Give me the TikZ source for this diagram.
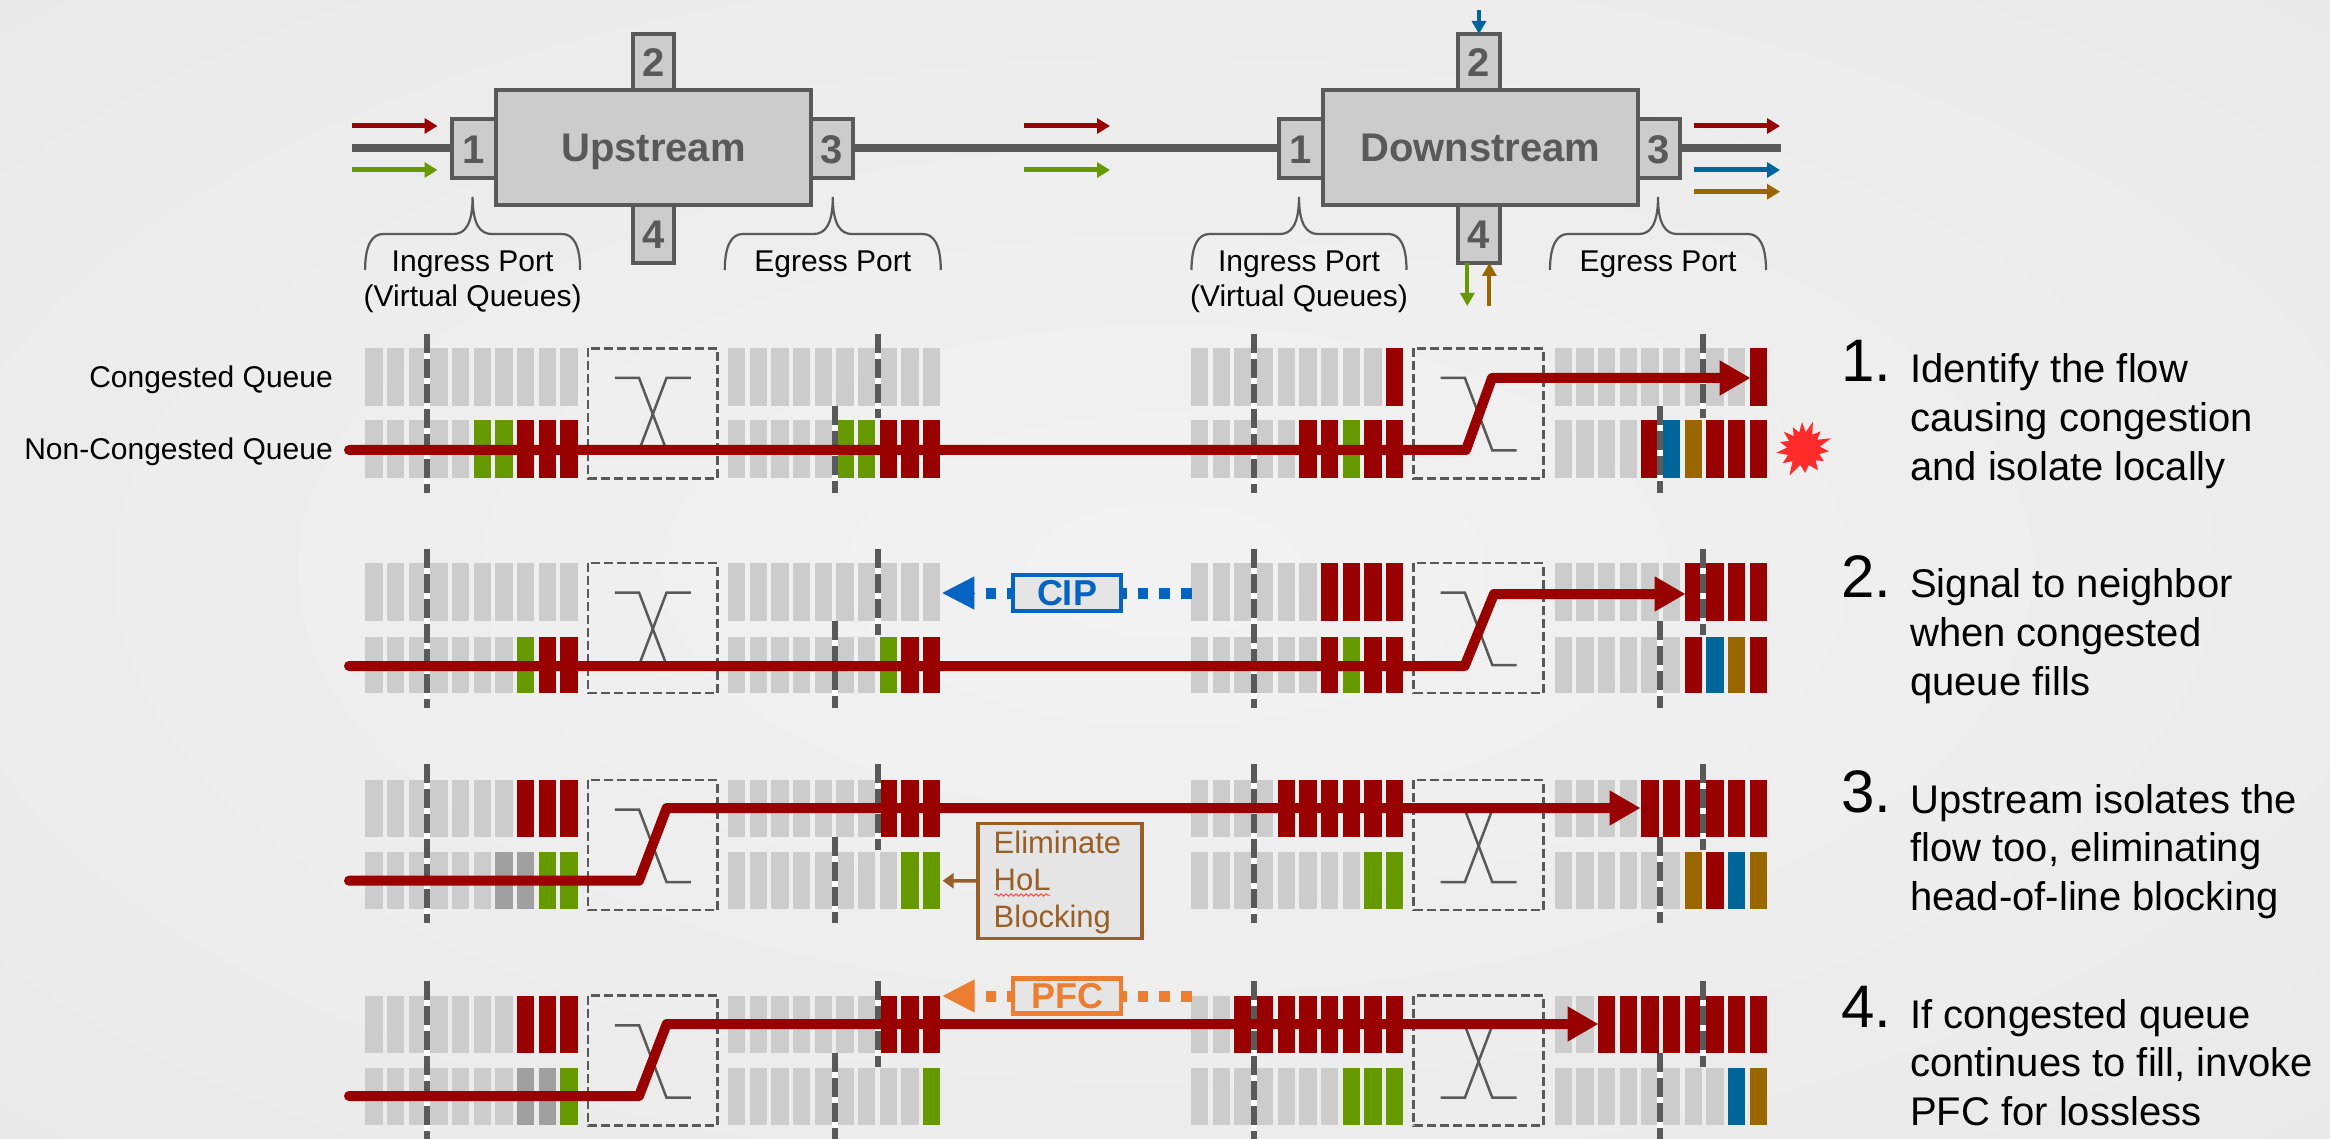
\documentclass[tikz,border=0pt]{standalone}
\usepackage{fontspec}
\setmainfont{Liberation Sans}
\usetikzlibrary{arrows.meta,decorations.pathmorphing}
\definecolor{qg}{HTML}{CCCCCC}
\definecolor{qd}{HTML}{A0A0A0}
\definecolor{qr}{HTML}{990000}
\definecolor{qn}{HTML}{669900}
\definecolor{qb}{HTML}{006699}
\definecolor{qw}{HTML}{996600}
\definecolor{ink}{HTML}{595959}
\definecolor{holc}{HTML}{9A5F26}
\definecolor{cipc}{HTML}{0563C1}
\definecolor{pfcc}{HTML}{ED7D31}
\definecolor{burstc}{HTML}{FF2A2A}
\pgfdeclareradialshading{bgshade}{\pgfpoint{0bp}{0bp}}{color(0bp)=(white!95!black); color(50bp)=(white!90!black)}
\newcommand\fsz[2]{\fontsize{#1}{#2}\selectfont}
\newcommand\qrow[4]{%
  \foreach \i in {0,...,9} {\fill[qg] ({#1+\i*21.65},#2) rectangle +(17.4,#3);}
  \foreach \i/\c in {#4} {\fill[fill=\c] ({#1+\i*21.65},#2) rectangle +(17.4,#3);}}
\newcommand\mydash[3]{%
  \draw[dashbar,white,solid] ({#1},{#2}) -- ({#1},{#3});
  \draw[dashbar] ({#1},{#2}) -- ({#1},{#3});}
\newcommand\qswitch[2]{%
  \draw[swbox] ({#1-64.8},#2) rectangle ({#1+64.8},{#2+130});
  \draw[swline] ({#1-38},{#2+29.7}) -- ({#1-13.7},{#2+29.7}) -- ({#1+13.7},{#2+102}) -- ({#1+38},{#2+102});
  \draw[swline] ({#1+38},{#2+29.7}) -- ({#1+13.7},{#2+29.7}) -- ({#1-13.7},{#2+102}) -- ({#1-38},{#2+102});}
\newcommand\qbrace[2]{%
  \draw[bracel] ({#1-#2},270) .. controls ({#1-#2},245) and ({#1-#2+7},234) .. ({#1-#2+18},234)
    -- ({#1-19},234) .. controls ({#1-8},234) and (#1,225) .. (#1,197)
    .. controls (#1,225) and ({#1+8},234) .. ({#1+19},234)
    -- ({#1+#2-18},234) .. controls ({#1+#2-7},234) and ({#1+#2},245) .. ({#1+#2},270);}
\tikzset{
  x=1pt,y=-1pt,
  sw/.style={draw=ink,fill=qg,line width=4pt,inner sep=0pt,outer sep=0pt,minimum width=315pt,minimum height=115pt,text=ink,font=\bfseries\fsz{40}{48},text height=28.4pt,text depth=0pt},
  port/.style={draw=ink,fill=qg,line width=4pt,inner sep=0pt,outer sep=0pt,text=ink,font=\bfseries\fsz{40}{48},text height=28.4pt,text depth=0pt},
  link/.style={draw=ink,line width=8pt},
  small/.style={line width=5pt,-{Triangle[length=13pt,width=15pt]}},
  smallv/.style={line width=4pt,-{Triangle[length=13pt,width=14pt]}},
  bracel/.style={draw=ink,line width=2.2pt},
  lab/.style={font=\fsz{30}{35},text=black,inner sep=0pt,align=center,anchor=base},
  qlab/.style={font=\fsz{30}{35},text=black,inner sep=0pt,anchor=base east},
  dashbar/.style={draw=ink,line width=6pt,dash pattern=on 19pt off 6pt},
  swbox/.style={draw=ink,line width=2.7pt,dash pattern=on 9pt off 4pt},
  swline/.style={draw=ink,line width=2.5pt},
  flow/.style={draw=qr,line width=10pt,line cap=round,line join=round,-{Triangle[length=31pt,width=33pt]}},
  sigbox/.style={line width=4.4pt,fill=white!90!black,inner sep=0pt,outer sep=0pt,minimum width=108pt,minimum height=36pt,font=\bfseries\fsz{36}{42}},
  sigdots/.style={line width=11pt,dash pattern=on 10.7pt off 11pt},
  sighead/.style={line width=1pt,-{Triangle[length=32pt,width=33pt]}},
  step num/.style={font=\fsz{60}{60},text=black,inner sep=0pt,anchor=base west},
  step text/.style={font=\fsz{40}{48.8},text=black,inner sep=0pt,align=left,anchor=base west},
}
\begin{document}
\begin{tikzpicture}
\useasboundingbox (0,0) rectangle (2330,1139);
\clip (0,0) rectangle (2330,1139);
\fill[shading=bgshade] (0,0) rectangle (2330,1139);

% --- top switches
\coordinate (inL) at (352,147.7);
\coordinate (outR) at (1781,147.7);
\node[port,minimum width=41pt,minimum height=56pt] (u2) at (653.5,62) {2};
\node[port,minimum width=41pt,minimum height=58pt] (u4) at (653.5,234) {4};
\node[port,minimum width=44pt,minimum height=59pt] (u1) at (474,149) {1};
\node[port,minimum width=42pt,minimum height=59pt] (u3) at (832,149) {3};
\node[sw] (up) at (653.5,147.5) {Upstream};
\node[port,minimum width=42pt,minimum height=56pt] (d2) at (1479,62) {2};
\node[port,minimum width=42pt,minimum height=58pt] (d4) at (1479,234) {4};
\node[port,minimum width=44pt,minimum height=59pt] (d1) at (1300.5,149) {1};
\node[port,minimum width=42pt,minimum height=59pt] (d3) at (1659,149) {3};
\node[sw] (dn) at (1480.3,147.5) {Downstream};
\draw[link] (inL) -- (u1.west |- inL);
\draw[link] (u3.east |- inL) -- (d1.west |- inL);
\draw[link] (d3.east |- inL) -- (outR);

% small flow arrows
\coordinate (a1s) at (352,126); \coordinate (a1e) at (437.5,126);
\coordinate (a2s) at (352,170); \coordinate (a2e) at (437.5,170);
\coordinate (a3s) at (1024,126); \coordinate (a3e) at (1110,126);
\coordinate (a4s) at (1024,170); \coordinate (a4e) at (1110,170);
\coordinate (a5s) at (1694,126); \coordinate (a5e) at (1780,126);
\coordinate (a6s) at (1694,170); \coordinate (a6e) at (1780,170);
\coordinate (a7s) at (1694,191.7); \coordinate (a7e) at (1780,191.7);
\draw[small,draw=qr,qr] (a1s) -- (a1e);
\draw[small,draw=qn,qn] (a2s) -- (a2e);
\draw[small,draw=qr,qr] (a3s) -- (a3e);
\draw[small,draw=qn,qn] (a4s) -- (a4e);
\draw[small,draw=qr,qr] (a5s) -- (a5e);
\draw[small,draw=qb,qb] (a6s) -- (a6e);
\draw[small,draw=qw,qw] (a7s) -- (a7e);
\coordinate (a8s) at (1479,10);
\coordinate (a9e) at (1467.3,306);
\coordinate (a10s) at (1489.4,306);
\draw[smallv,qb] (a8s) -- (a8s |- d2.north);
\draw[smallv,qn] (a9e |- d4.south) -- (a9e);
\draw[smallv,qw] (a10s) -- (a10s |- d4.south);

% braces and captions
\qbrace{472.6}{107.5}
\qbrace{832.8}{108}
\qbrace{1299}{107.5}
\qbrace{1658}{108}
\node[lab] (t1) at (472.6,306.7) {Ingress Port\\(Virtual Queues)};
\node[lab] (t2) at (832.8,271.7) {Egress Port};
\node[lab] (t3) at (1299,306.7) {Ingress Port\\(Virtual Queues)};
\node[lab] (t4) at (1658,271.7) {Egress Port};
\node[qlab] (q1) at (333,388) {Congested Queue};
\node[qlab] (q2) at (333,459.3) {Non-Congested Queue};

% --- diagram 1
\qrow{365.3}{348.3}{57.7}{0/qg}
\qrow{365.3}{420}{57.7}{5/qn,6/qn,7/qr,8/qr,9/qr}
\qrow{728}{348.3}{57.7}{0/qg}
\qrow{728}{420}{57.7}{5/qn,6/qn,7/qr,8/qr,9/qr}
\qrow{1191}{348.3}{57.7}{9/qr}
\qrow{1191}{420}{57.7}{5/qr,6/qr,7/qn,8/qr,9/qr}
\qrow{1554.7}{348.3}{57.7}{9/qr}
\qrow{1554.7}{420}{57.7}{4/qr,5/qb,6/qw,7/qr,8/qr,9/qr}
\mydash{427.3}{334}{493}
\mydash{878}{334}{418}
\mydash{834.5}{406}{493}
\mydash{1253.8}{334}{493}
\mydash{1702.8}{334}{418}
\mydash{1660.3}{406}{493}
\qswitch{652.8}{348.3}
\qswitch{1478.6}{348.3}
\coordinate (f1a) at (349,450); \coordinate (f1b) at (1466,450); \coordinate (f1c) at (1492,378); \coordinate (f1d) at (1750.6,378);
\draw[flow] (f1a) -- (f1b) -- (f1c) -- (f1d);
\fill[fill=burstc,shift={(1803,449)}] (339:30) -- (352:17) -- (5:26) -- (17:17) -- (30:24) -- (42:17) -- (55:26) -- (70:17) -- (85:24) -- (100:16) -- (117:30) -- (131:16) -- (145:25) -- (158:16) -- (172:27) -- (185:16) -- (197:24) -- (210:16) -- (222:26) -- (234:16) -- (245:24) -- (257:17) -- (268:27) -- (279:17) -- (290:29) -- (303:17) -- (315:25) -- (327:17) -- cycle;

% --- diagram 2
\qrow{365.3}{563}{58}{0/qg}
\qrow{365.3}{636.7}{56.6}{7/qn,8/qr,9/qr}
\qrow{728}{563}{58}{0/qg}
\qrow{728}{636.7}{56.6}{7/qn,8/qr,9/qr}
\qrow{1191}{563}{58}{6/qr,7/qr,8/qr,9/qr}
\qrow{1191}{636.7}{56.6}{6/qr,7/qn,8/qr,9/qr}
\qrow{1554.7}{563}{58}{6/qr,7/qr,8/qr,9/qr}
\qrow{1554.7}{636.7}{56.6}{6/qr,7/qb,8/qw,9/qr}
\mydash{427.3}{549}{708}
\mydash{878}{549}{635}
\mydash{834.5}{621}{708}
\mydash{1253.8}{549}{708}
\mydash{1702.8}{549}{635}
\mydash{1660.3}{621}{708}
\qswitch{652.8}{563}
\qswitch{1478.6}{563}
\coordinate (f2a) at (349,666); \coordinate (f2b) at (1464.6,666); \coordinate (f2c) at (1494,594); \coordinate (f2d) at (1685.6,594);
\draw[flow] (f2a) -- (f2b) -- (f2c) -- (f2d);
\coordinate (cipR) at (1191.7,593); \coordinate (cipL) at (985,593);
\coordinate (cipB) at (975,593); \coordinate (cipT) at (942.3,593);
\draw[sigdots,draw=cipc] (cipR) -- (cipL);
\draw[sighead,draw=cipc,cipc] (cipB) -- (cipT);
\node[sigbox,draw=cipc,text=cipc] (cip) at (1067,592.7) {CIP};

% --- diagram 3
\qrow{365.3}{780}{57}{7/qr,8/qr,9/qr}
\qrow{365.3}{852.3}{57}{6/qd,7/qd,8/qn,9/qn}
\qrow{728}{780}{57}{7/qr,8/qr,9/qr}
\qrow{728}{852.3}{57}{8/qn,9/qn}
\qrow{1191}{780}{57}{4/qr,5/qr,6/qr,7/qr,8/qr,9/qr}
\qrow{1191}{852.3}{57}{8/qn,9/qn}
\qrow{1554.7}{780}{57}{4/qr,5/qr,6/qr,7/qr,8/qr,9/qr}
\qrow{1554.7}{852.3}{57}{6/qw,7/qr,8/qb,9/qw}
\mydash{427.3}{764}{923}
\mydash{878}{764}{850}
\mydash{834.5}{837}{923}
\mydash{1253.8}{764}{923}
\mydash{1702.8}{764}{850}
\mydash{1660.3}{837}{923}
\qswitch{652.8}{780}
\qswitch{1478.6}{780}
\coordinate (f3a) at (349,880.7); \coordinate (f3b) at (639,880.7); \coordinate (f3c) at (666.7,808); \coordinate (f3d) at (1640.5,808);
\draw[flow] (f3a) -- (f3b) -- (f3c) -- (f3d);
\coordinate (holT) at (942.6,880.7);
\node[draw=holc,fill=white!90!black,line width=3.5pt,inner sep=0pt,outer sep=0pt,minimum width=164pt,minimum height=115pt] (hol) at (1060,881) {};
\node[text=holc,font=\fsz{31}{37},align=left,inner sep=0pt,anchor=base west] (holtext) at (993.5,927) {Eliminate\\HoL\\Blocking};
\draw[draw=holc,holc,line width=3.5pt,-{Triangle[length=11pt,width=15pt]}] (hol.west) -- (holT);
\coordinate (wavyA) at (994.5,895); \coordinate (wavyB) at (1050,895);
\draw[draw=red!70!white,line width=1pt,decorate,decoration={snake,amplitude=1.2pt,segment length=5pt}] (wavyA) -- (wavyB);

% --- diagram 4
\qrow{365.3}{995.7}{57.3}{7/qr,8/qr,9/qr}
\qrow{365.3}{1067.7}{57.3}{7/qd,8/qd,9/qn}
\qrow{728}{995.7}{57.3}{7/qr,8/qr,9/qr}
\qrow{728}{1067.7}{57.3}{9/qn}
\qrow{1191}{995.7}{57.3}{2/qr,3/qr,4/qr,5/qr,6/qr,7/qr,8/qr,9/qr}
\qrow{1191}{1067.7}{57.3}{7/qn,8/qn,9/qn}
\qrow{1554.7}{995.7}{57.3}{2/qr,3/qr,4/qr,5/qr,6/qr,7/qr,8/qr,9/qr}
\qrow{1554.7}{1067.7}{57.3}{8/qb,9/qw}
\mydash{427.3}{981}{1140}
\mydash{878}{981}{1067}
\mydash{834.5}{1053}{1140}
\mydash{1253.8}{981}{1140}
\mydash{1702.8}{981}{1067}
\mydash{1660.3}{1053}{1140}
\qswitch{652.8}{995.7}
\qswitch{1478.6}{995.7}
\coordinate (f4a) at (349,1096); \coordinate (f4b) at (639,1096); \coordinate (f4c) at (666.7,1024); \coordinate (f4d) at (1598.5,1024);
\draw[flow] (f4a) -- (f4b) -- (f4c) -- (f4d);
\coordinate (pfcR) at (1191.7,996); \coordinate (pfcL) at (985,996);
\coordinate (pfcB) at (975,996); \coordinate (pfcT) at (942.6,996);
\draw[sigdots,draw=pfcc] (pfcR) -- (pfcL);
\draw[sighead,draw=pfcc,pfcc] (pfcB) -- (pfcT);
\node[sigbox,draw=pfcc,text=pfcc,minimum height=35pt] (pfc) at (1067,996) {PFC};

% --- steps
\node[step num] (n1) at (1841,382) {1.};
\node[step text] (s1) at (1910,480) {Identify the flow\\causing congestion\\and isolate locally};
\node[step num] (n2) at (1841,597.5) {2.};
\node[step text] (s2) at (1910,695) {Signal to neighbor\\when congested\\queue fills};
\node[step num] (n3) at (1841,812) {3.};
\node[step text] (s3) at (1910,910.7) {Upstream isolates the\\flow too, eliminating\\head-of-line blocking};
\node[step num] (n4) at (1841,1027.7) {4.};
\node[step text] (s4) at (1910,1125.7) {If congested queue\\continues to fill, invoke\\PFC for lossless};
\end{tikzpicture}
\end{document}
